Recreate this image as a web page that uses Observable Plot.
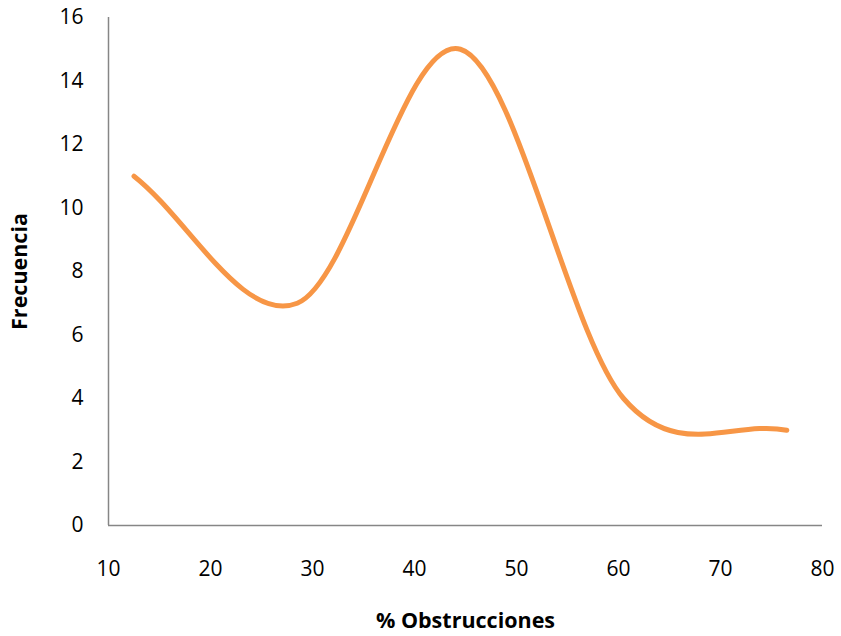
<!DOCTYPE html>
<html>
<head>
<meta charset="utf-8">
<script src="https://cdn.jsdelivr.net/npm/d3@7"></script>
<script src="https://cdn.jsdelivr.net/npm/@observablehq/plot@0.6"></script>
<style>
  html, body { margin: 0; padding: 0; background: #fff; }
</style>
</head>
<body>
<div id="chart"></div>
<script>
const classMarks = [12.5, 28.5, 44.5, 60.5, 76.5];
const frequencies = [11, 7, 15, 4, 3];
const xTicks = [10, 20, 30, 40, 50, 60, 70, 80];
const yTicks = [0, 2, 4, 6, 8, 10, 12, 14, 16];
const xTitle = "% Obstrucciones";
const yTitle = "Frecuencia";

const data = classMarks.map((x, i) => ({x, y: frequencies[i]}));

// Spreadsheet-style smoothed line: cubic Bezier segments with control points
// P1 + f*(P2 - P0) and P2 - f*(P3 - P1), f = 1/6 (capped), with reflected
// phantom points beyond both ends.
function SmoothCurve(context) { this._context = context; }
SmoothCurve.prototype = {
  areaStart() {},
  areaEnd() {},
  lineStart() { this._pts = []; },
  point(x, y) { this._pts.push([+x, +y]); },
  lineEnd() {
    const p = this._pts, n = p.length, ctx = this._context;
    if (!n) return;
    ctx.moveTo(p[0][0], p[0][1]);
    if (n === 1) return;
    const get = (i) => {
      if (i < 0) return [2 * p[0][0] - p[1][0], 2 * p[0][1] - p[1][1]];
      if (i > n - 1) return [2 * p[n - 1][0] - p[n - 2][0], 2 * p[n - 1][1] - p[n - 2][1]];
      return p[i];
    };
    const dist = (a, b) => Math.hypot(b[0] - a[0], b[1] - a[1]);
    for (let i = 0; i < n - 1; i++) {
      const p0 = get(i - 1), p1 = p[i], p2 = p[i + 1], p3 = get(i + 2);
      const d12 = dist(p1, p2), d02 = dist(p0, p2), d13 = dist(p1, p3);
      const f1 = d02 > 0 ? Math.min(1 / 6, d12 / (2 * d02)) : 1 / 6;
      const f2 = d13 > 0 ? Math.min(1 / 6, d12 / (2 * d13)) : 1 / 6;
      ctx.bezierCurveTo(
        p1[0] + f1 * (p2[0] - p0[0]), p1[1] + f1 * (p2[1] - p0[1]),
        p2[0] - f2 * (p3[0] - p1[0]), p2[1] - f2 * (p3[1] - p1[1]),
        p2[0], p2[1]
      );
    }
  }
};
const curveSmooth = (context) => new SmoothCurve(context);

const chart = Plot.plot({
  width: 841,
  height: 636,
  marginLeft: 108,
  marginRight: 19,
  marginTop: 17,
  marginBottom: 111,
  style: {fontFamily: "'Open Sans', sans-serif", fontSize: "21px", color: "#000", background: "#fff"},
  x: {domain: [10, 80]},
  y: {domain: [0, 16]},
  marks: [
    Plot.axisX(xTicks, {tickSize: 0, tickPadding: 36, label: null, fontSize: 21}),
    Plot.axisY(yTicks, {tickSize: 0, tickPadding: 25, label: null, fontSize: 21}),
    Plot.ruleX([10], {stroke: "#868686", strokeWidth: 1.5}),
    Plot.ruleY([0], {stroke: "#868686", strokeWidth: 1.5}),
    Plot.line(data, {x: "x", y: "y", curve: curveSmooth, stroke: "#F79646", strokeWidth: 5, strokeLinecap: "round"}),
    Plot.text([xTitle], {text: d => d, frameAnchor: "bottom", dy: 96, textAnchor: "middle", lineAnchor: "middle", fontWeight: "bold", fontSize: 21.5}),
    Plot.text([yTitle], {text: d => d, frameAnchor: "left", dx: -88, rotate: -90, textAnchor: "middle", lineAnchor: "middle", fontWeight: "bold", fontSize: 21.5})
  ]
});
document.getElementById("chart").appendChild(chart);
</script>
</body>
</html>
